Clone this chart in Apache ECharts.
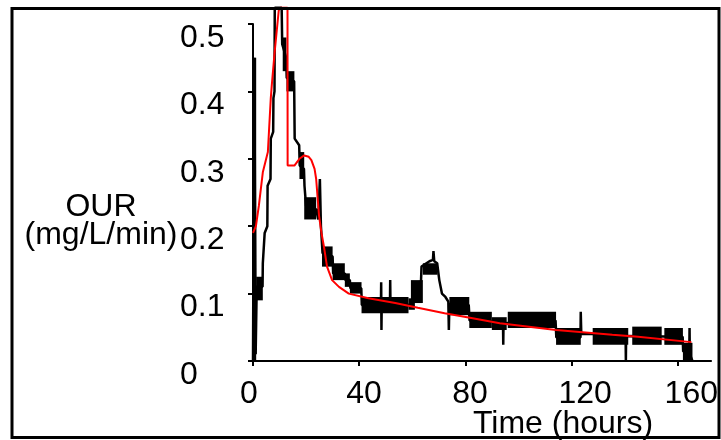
<!DOCTYPE html>
<html>
<head>
<meta charset="utf-8">
<script src="https://cdn.jsdelivr.net/npm/echarts@6/dist/echarts.min.js"></script>
<style>
html, body { margin: 0; padding: 0; background: #fff; }
#chart { width: 721px; height: 440px; }
</style>
</head>
<body>
<div id="chart"></div>
<script>
// tick labels
const timeTicks = [0, 40, 80, 120, 160];
const ourTicks = [0, 0.1, 0.2, 0.3, 0.4, 0.5];

// measured OUR, [time (h), OUR (mg/L/min)]
const measured = [
    [0, 0], [0.5, 0.45], [1.0, 0.01], [1.4, 0.11],
    [3.6, 0.11], [3.7, 0.145], [4.3, 0.145], [4.4, 0.19], [5.4, 0.2], [5.5, 0.26],
    [6.6, 0.27], [6.7, 0.33], [7.6, 0.34], [7.7, 0.39], [8.1, 0.4], [8.2, 0.524],
    [10.8, 0.524], [11.0, 0.47], [12.5, 0.45], [12.7, 0.42], [15.5, 0.415], [15.7, 0.33],
    [17.4, 0.32], [17.6, 0.29], [19.2, 0.285], [19.4, 0.26], [20.0, 0.23], [23.8, 0.225],
    [24.6, 0.21], [25.2, 0.27], [25.6, 0.2], [26.2, 0.16], [30.0, 0.155], [30.2, 0.13],
    [34.6, 0.13], [34.8, 0.12], [36.5, 0.12], [36.7, 0.108], [40.8, 0.108], [41.0, 0.083],
    [48.2, 0.083], [48.3, 0.117], [48.4, 0.046], [48.5, 0.083], [51.6, 0.083], [51.7, 0.12],
    [51.8, 0.083], [58.6, 0.083], [60.6, 0.088], [61.0, 0.115], [63.3, 0.118], [63.5, 0.14],
    [66.5, 0.148], [67.8, 0.15], [68.0, 0.163], [68.3, 0.148], [69.4, 0.145], [70.2, 0.12],
    [71.2, 0.1], [72.5, 0.095], [73.6, 0.088], [73.8, 0.046], [74.0, 0.085], [81.3, 0.083],
    [81.6, 0.06], [94.2, 0.058], [94.3, 0.024], [94.4, 0.056], [114.0, 0.06], [114.3, 0.035],
    [123.4, 0.035], [123.5, 0.073], [123.7, 0.04], [127.8, 0.04], [140.4, 0.037], [140.5, 0.0],
    [140.6, 0.037], [161.9, 0.036], [162.1, 0.014], [164.4, 0.014], [164.5, 0.049], [164.6, 0.01],
    [165.6, 0.0]
];

// stretches where the measured signal flickers between two levels, [from h, to h, low, high]
const noiseBands = [
    [0.3, 1.2, 0.0, 0.45],
    [1.2, 3.7, 0.09, 0.125],
    [11.2, 12.6, 0.43, 0.48],
    [12.6, 15.6, 0.40, 0.43],
    [17.5, 19.3, 0.27, 0.31],
    [19.3, 23.8, 0.21, 0.243],
    [26.0, 30.0, 0.14, 0.17],
    [30.0, 34.6, 0.12, 0.145],
    [34.6, 36.5, 0.11, 0.13],
    [36.5, 40.9, 0.10, 0.117],
    [40.9, 58.6, 0.071, 0.095],
    [58.6, 61.0, 0.076, 0.093],
    [59.5, 64.0, 0.086, 0.12],
    [64.0, 69.5, 0.128, 0.145],
    [74.0, 81.5, 0.068, 0.095],
    [81.5, 90.0, 0.049, 0.073],
    [90.0, 95.6, 0.046, 0.065],
    [96.0, 114.2, 0.049, 0.073],
    [114.2, 123.5, 0.024, 0.049],
    [128.0, 141.4, 0.024, 0.049],
    [142.9, 154.0, 0.024, 0.051],
    [155.0, 162.0, 0.024, 0.049],
    [162.0, 165.6, 0.0, 0.027]
];

// model fit (red)
const model = [
    [0, 0.19], [1.1, 0.2], [2.2, 0.23], [3.7, 0.28], [5.6, 0.31], [6.7, 0.39],
    [7.1, 0.41], [8.2, 0.46], [9.7, 0.52], [10.2, 0.524], [13.0, 0.524], [13.05, 0.29],
    [15.6, 0.29], [17.5, 0.3], [19.3, 0.305], [21.0, 0.303], [22.0, 0.298], [23.2, 0.285],
    [23.8, 0.27], [24.9, 0.215], [25.8, 0.19], [26.8, 0.168], [27.9, 0.14], [29.8, 0.12],
    [32.4, 0.11], [36.1, 0.1], [43.5, 0.093], [53.6, 0.086], [62.1, 0.079], [72.2, 0.071],
    [80.7, 0.065], [93.0, 0.056], [114.2, 0.046], [135.4, 0.039], [145.1, 0.036], [165.2, 0.028]
];

const font = '"Liberation Sans", Arial, sans-serif';
const chart = echarts.init(document.getElementById('chart'));

const option = {
    backgroundColor: '#fff',
    animation: false,
    grid: { left: 253, right: 4, top: 24, bottom: 79 },
    xAxis: {
        type: 'value',
        min: 0,
        max: 172.6,
        axisLine: { show: true, lineStyle: { color: '#000', width: 2 } },
        axisTick: { show: true, length: 5, customValues: timeTicks, lineStyle: { color: '#000', width: 2 } },
        axisLabel: {
            customValues: timeTicks,
            color: '#000',
            fontFamily: font,
            fontSize: 32,
            margin: 17,
            align: 'left',
            padding: [0, 0, 0, -13]
        },
        splitLine: { show: false }
    },
    yAxis: {
        type: 'value',
        min: 0,
        max: 0.5,
        interval: 0.1,
        axisLine: { show: true, lineStyle: { color: '#000', width: 2 } },
        axisTick: { show: true, length: 5, customValues: ourTicks, lineStyle: { color: '#000', width: 2 } },
        axisLabel: {
            customValues: ourTicks,
            color: '#000',
            fontFamily: font,
            fontSize: 32,
            margin: 73,
            align: 'left',
            verticalAlign: 'top',
            padding: [-2, 0, 0, 0],
            formatter: function (v) {
                return v === 0 ? '0' : v.toFixed(1)
            }
        },
        splitLine: { show: false }
    },
    graphic: [
        {
            type: 'rect',
            shape: { x: 12, y: 8.5, width: 707, height: 429 },
            style: { fill: 'none', stroke: '#000', lineWidth: 3 },
            z: 100
        },
        {
            type: 'text',
            x: 101,
            y: 221,
            style: {
                text: 'OUR\n(mg/L/min)',
                fill: '#000',
                font: '32px ' + font,
                lineHeight: 28,
                textAlign: 'center',
                textVerticalAlign: 'middle'
            }
        },
        {
            type: 'text',
            x: 563,
            y: 424,
            style: {
                text: 'Time (hours)',
                fill: '#000',
                font: '32px ' + font,
                textAlign: 'center',
                textVerticalAlign: 'middle'
            }
        }
    ],
    series: [
        {
            type: 'custom',
            name: 'noise',
            data: noiseBands,
            encode: { x: [0, 1], y: [2, 3] },
            renderItem: function (params, api) {
                const p0 = api.coord([api.value(0), api.value(3)]);
                const p1 = api.coord([api.value(1), api.value(2)]);
                return {
                    type: 'rect',
                    shape: { x: p0[0], y: p0[1], width: p1[0] - p0[0], height: p1[1] - p0[1] },
                    style: { fill: '#000' }
                };
            },
            z: 2
        },
        {
            type: 'line',
            name: 'measured',
            data: measured,
            showSymbol: false,
            clip: false,
            lineStyle: { color: '#000', width: 2.5 },
            z: 3
        },
        {
            type: 'line',
            name: 'model',
            data: model,
            showSymbol: false,
            clip: false,
            lineStyle: { color: '#ff0000', width: 2 },
            z: 4
        }
    ]
};
chart.setOption(option);
</script>
</body>
</html>
